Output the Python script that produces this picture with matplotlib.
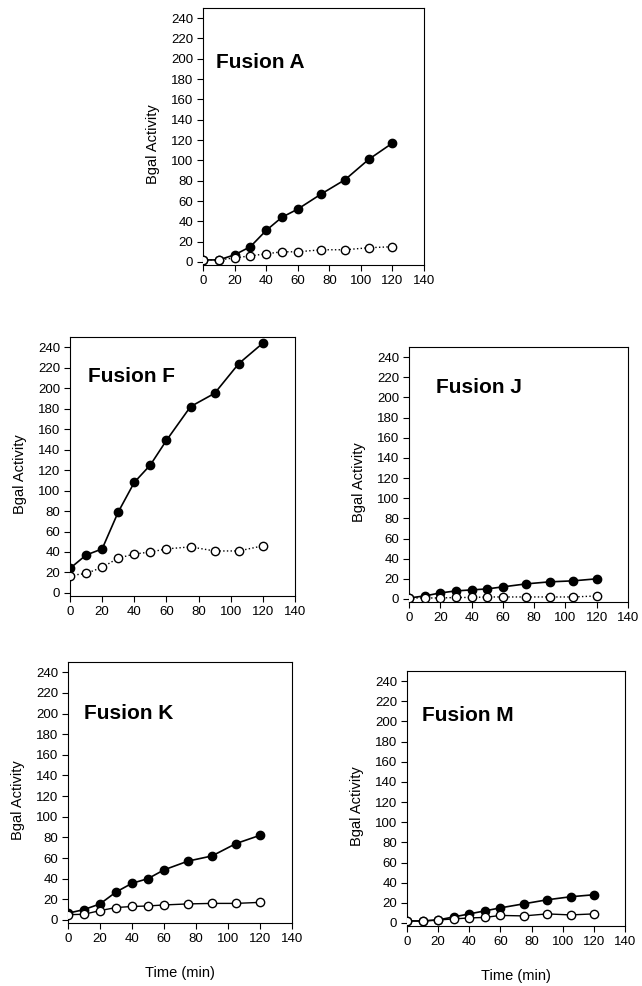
import numpy as np
import matplotlib.pyplot as plt

plt.rcParams['font.family'] = ['Liberation Sans', 'DejaVu Sans']

# sampling times (min)
times = [0, 10, 20, 30, 40, 50, 60, 75, 90, 105, 120]

# Bgal activity, filled (induced) and open (control) series per fusion
fusion_names = ["Fusion A", "Fusion F", "Fusion J", "Fusion K", "Fusion M"]
filled_a = [2, 2, 7, 15, 31, 44, 52, 67, 81, 101, 117]
open_a = [2, 2, 4, 6, 8, 10, 10, 12, 12, 14, 15]
filled_f = [24, 37, 43, 79, 108, 125, 149, 182, 195, 224, 244]
open_f = [17, 19, 25, 34, 38, 40, 43, 45, 41, 41, 46]
filled_j = [1, 3, 6, 8, 9, 10, 12, 15, 17, 18, 20]
open_j = [1, 1, 1, 1.5, 1.5, 2, 2, 2, 2, 2, 3]
filled_k = [6.5, 10, 15.5, 27, 35.5, 40, 48.5, 57, 62, 74, 82]
open_k = [5, 5.5, 9, 12, 13, 13.5, 14.5, 15.5, 16, 16, 17]
filled_m = [2, 2, 3, 6, 9, 12, 15, 19, 23, 26, 28]
open_m = [2, 2, 3, 4, 5, 5.5, 7.5, 7, 9, 8, 9]

W, H = 642, 986
fig = plt.figure(figsize=(W / 100, H / 100), dpi=100)

# panel boxes in pixels: left, top, right, bottom
panels = [
    (fusion_names[0], filled_a, open_a, ':', (203, 8, 424, 265), (8, 191), False),
    (fusion_names[1], filled_f, open_f, ':', (70, 337, 295, 596), (11, 206), False),
    (fusion_names[2], filled_j, open_j, ':', (409, 347, 628, 602), (17, 204), False),
    (fusion_names[3], filled_k, open_k, '-', (68, 662, 292, 923), (10, 195), True),
    (fusion_names[4], filled_m, open_m, '-', (407, 671, 625, 926), (9.5, 200), True),
]

for name, filled, opened, open_ls, box, tpos, show_x in panels:
    l, t, r, b = box
    ax = fig.add_axes([l / W, 1 - b / H, (r - l) / W, (b - t) / H])
    ax.plot(times, filled, linestyle='-', color='black', lw=1.2,
            marker='o', ms=6, mfc='black', mec='black', zorder=3)
    ax.plot(times, opened, linestyle=open_ls, color='black', lw=1.0,
            marker='o', ms=6, mfc='white', mec='black', mew=1.0, zorder=4)
    ax.set_xlim(0, 140)
    ax.set_ylim(-3, 250)
    ax.set_xticks(np.arange(0, 141, 20))
    ax.set_yticks(np.arange(0, 241, 20))
    ax.tick_params(direction='out', length=4, width=0.8, labelsize=9.5,
                   top=False, right=False, pad=3)
    for s in ax.spines.values():
        s.set_linewidth(0.8)
    ax.text(tpos[0], tpos[1], name, fontsize=15, fontweight='bold',
            va='baseline', ha='left')
    ax.set_ylabel('Bgal Activity', fontsize=10.5)
    ax.yaxis.set_label_coords(-43 / (r - l), 0.47)
    if show_x:
        ax.set_xlabel('Time (min)', fontsize=10.5)
        ax.xaxis.set_label_coords(0.5, -43 / (b - t))

fig.savefig('out.png', dpi=100)
